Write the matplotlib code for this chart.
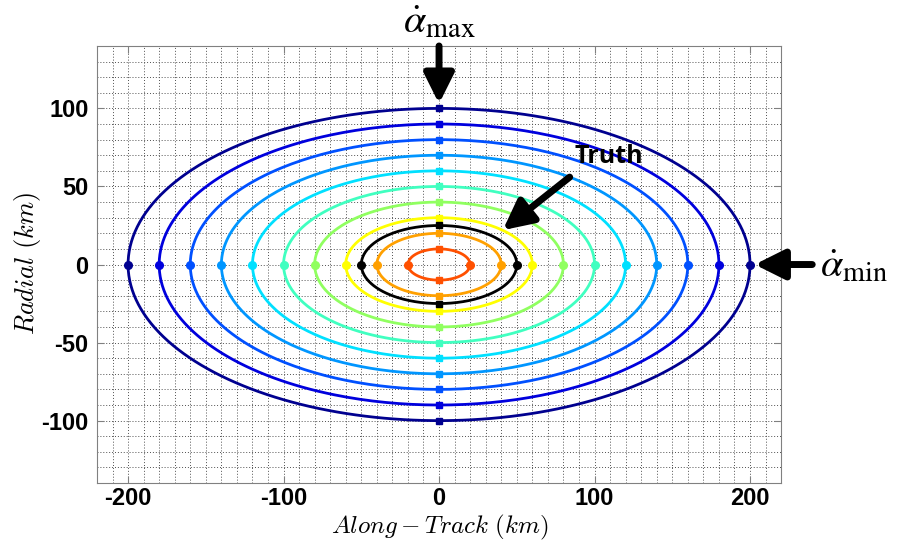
import numpy as np
import matplotlib
matplotlib.use("Agg")
import matplotlib.pyplot as plt
from matplotlib.ticker import MultipleLocator

plt.rcParams['mathtext.fontset'] = 'cm'
plt.rcParams['axes.unicode_minus'] = False

# Semi-axes of the error ellipses (km): along-track, radial
along_axes = [200, 180, 160, 140, 120, 100, 80, 60, 40, 20]
radial_axes = [100, 90, 80, 70, 60, 50, 40, 30, 20, 10]
ellipse_colors = ['#00008f', '#0000dd', '#0050ff', '#0096ff', '#00e0ff',
                  '#40ffc0', '#90ff60', '#ffff00', '#ffa000', '#ff5000']

# Truth ellipse
truth_along = 50
truth_radial = 25

x_ticks = [-200, -100, 0, 100, 200]
y_ticks = [-100, -50, 0, 50, 100]

fig = plt.figure(figsize=(9.02, 5.44), dpi=100)
ax = fig.add_axes([0.1075, 0.112, 0.7585, 0.8035])

t = np.linspace(0, 2 * np.pi, 400)


def draw_ellipse(a, b, color):
    ax.plot(a * np.cos(t), b * np.sin(t), color=color, lw=2.0, zorder=3)
    ax.plot([-a, a], [0, 0], 'o', color=color, ms=5.5, zorder=4)
    ax.plot([0, 0], [-b, b], 's', color=color, ms=5, zorder=4)


for a, b, c in zip(along_axes, radial_axes, ellipse_colors):
    draw_ellipse(a, b, c)
draw_ellipse(truth_along, truth_radial, 'black')

ax.set_xlim(-220, 220)
ax.set_ylim(-140, 140)
ax.set_xticks(x_ticks)
ax.set_yticks(y_ticks)
ax.xaxis.set_minor_locator(MultipleLocator(10))
ax.yaxis.set_minor_locator(MultipleLocator(10))
ax.grid(which='both', color='#505050', linestyle=(0, (1, 2)), linewidth=0.7)
ax.set_axisbelow(True)
for s in ax.spines.values():
    s.set_color('#808080')
ax.tick_params(which='both', direction='in', color='#808080', length=5,
               top=True, right=True)
ax.tick_params(which='minor', length=0)
for lbl in ax.get_xticklabels() + ax.get_yticklabels():
    lbl.set_fontfamily('Liberation Sans')
    lbl.set_fontweight('bold')
    lbl.set_fontsize(17)
ax.tick_params(axis='x', pad=3)
ax.tick_params(axis='y', pad=6)

fig.text(0.488, 0.03, r'$Along - Track\ (km)$', fontsize=18,
         ha='center', va='center')
fig.text(0.03, 0.515, r'$Radial\ (km)$', fontsize=19, rotation=90,
         ha='center', va='center')

arrow_kw = dict(arrowstyle='-|>,head_length=0.9,head_width=0.45', lw=5,
                color='black', shrinkA=0, shrinkB=0, mutation_scale=20)

# alpha-dot max arrow pointing down onto the outer ellipse
ax.annotate('', xy=(0, 103), xytext=(0, 140), arrowprops=arrow_kw,
            annotation_clip=False, zorder=6)
ax.text(0, 143, r'$\dot{\alpha}_{\mathrm{max}}$', ha='center', va='bottom',
        fontsize=29, math_fontfamily='stix')

# alpha-dot min arrow pointing left onto the outer ellipse
ax.annotate('', xy=(203, 0), xytext=(240, 0), arrowprops=arrow_kw,
            annotation_clip=False, zorder=6)
ax.text(245, -1, r'$\dot{\alpha}_{\mathrm{min}}$', ha='left', va='center',
        fontsize=29, math_fontfamily='stix')

# Truth label and arrow
ax.annotate('', xy=(41, 22), xytext=(84, 56), arrowprops=arrow_kw, zorder=6)
ax.text(87, 69, 'Truth', ha='left', va='center', fontsize=18,
        fontweight='bold', family='Open Sans')

fig.savefig('out.png', dpi=100)
